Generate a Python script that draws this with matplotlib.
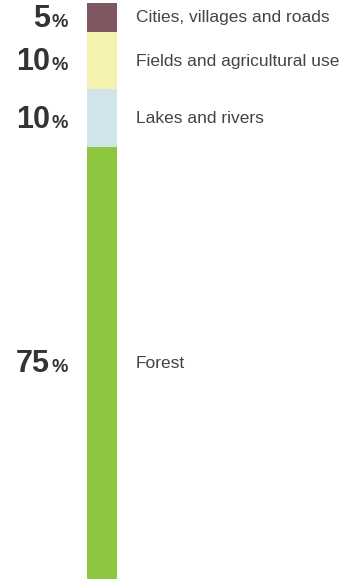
import matplotlib.pyplot as plt

# Land use shares (top to bottom)
categories = ['Cities, villages and roads', 'Fields and agricultural use', 'Lakes and rivers', 'Forest']
values = [5, 10, 10, 75]
colors = ['#7f5760', '#f5f2b0', '#cfe5ea', '#8dc63f']

plt.rcParams['font.family'] = ['Liberation Sans', 'DejaVu Sans']

fig = plt.figure(figsize=(3.39, 5.79), dpi=100)
ax = fig.add_axes([0, 0, 1, 1 - 3 / 579])
ax.set_xlim(0, 339)
ax.set_ylim(sum(values), 0)
ax.axis('off')

px = sum(values) / 576.0  # data units per pixel (vertical)

bottom = 0
for cat, val, col in zip(categories, values, colors):
    ax.bar(102, val, bottom=bottom, width=30, color=col, align='center')
    mid = bottom + val / 2
    ax.text(50, mid + 9.5 * px, str(val), ha='right', va='baseline', fontsize=22,
            fontweight='bold', color='#333333')
    ax.text(51, mid + 9.5 * px, '%', ha='left', va='baseline', fontsize=13.2,
            fontweight='bold', color='#333333')
    ax.text(136, mid + 5 * px, cat, ha='left', va='baseline', fontsize=12.5,
            color='#444444')
    bottom += val

fig.savefig('out.png', dpi=100)
